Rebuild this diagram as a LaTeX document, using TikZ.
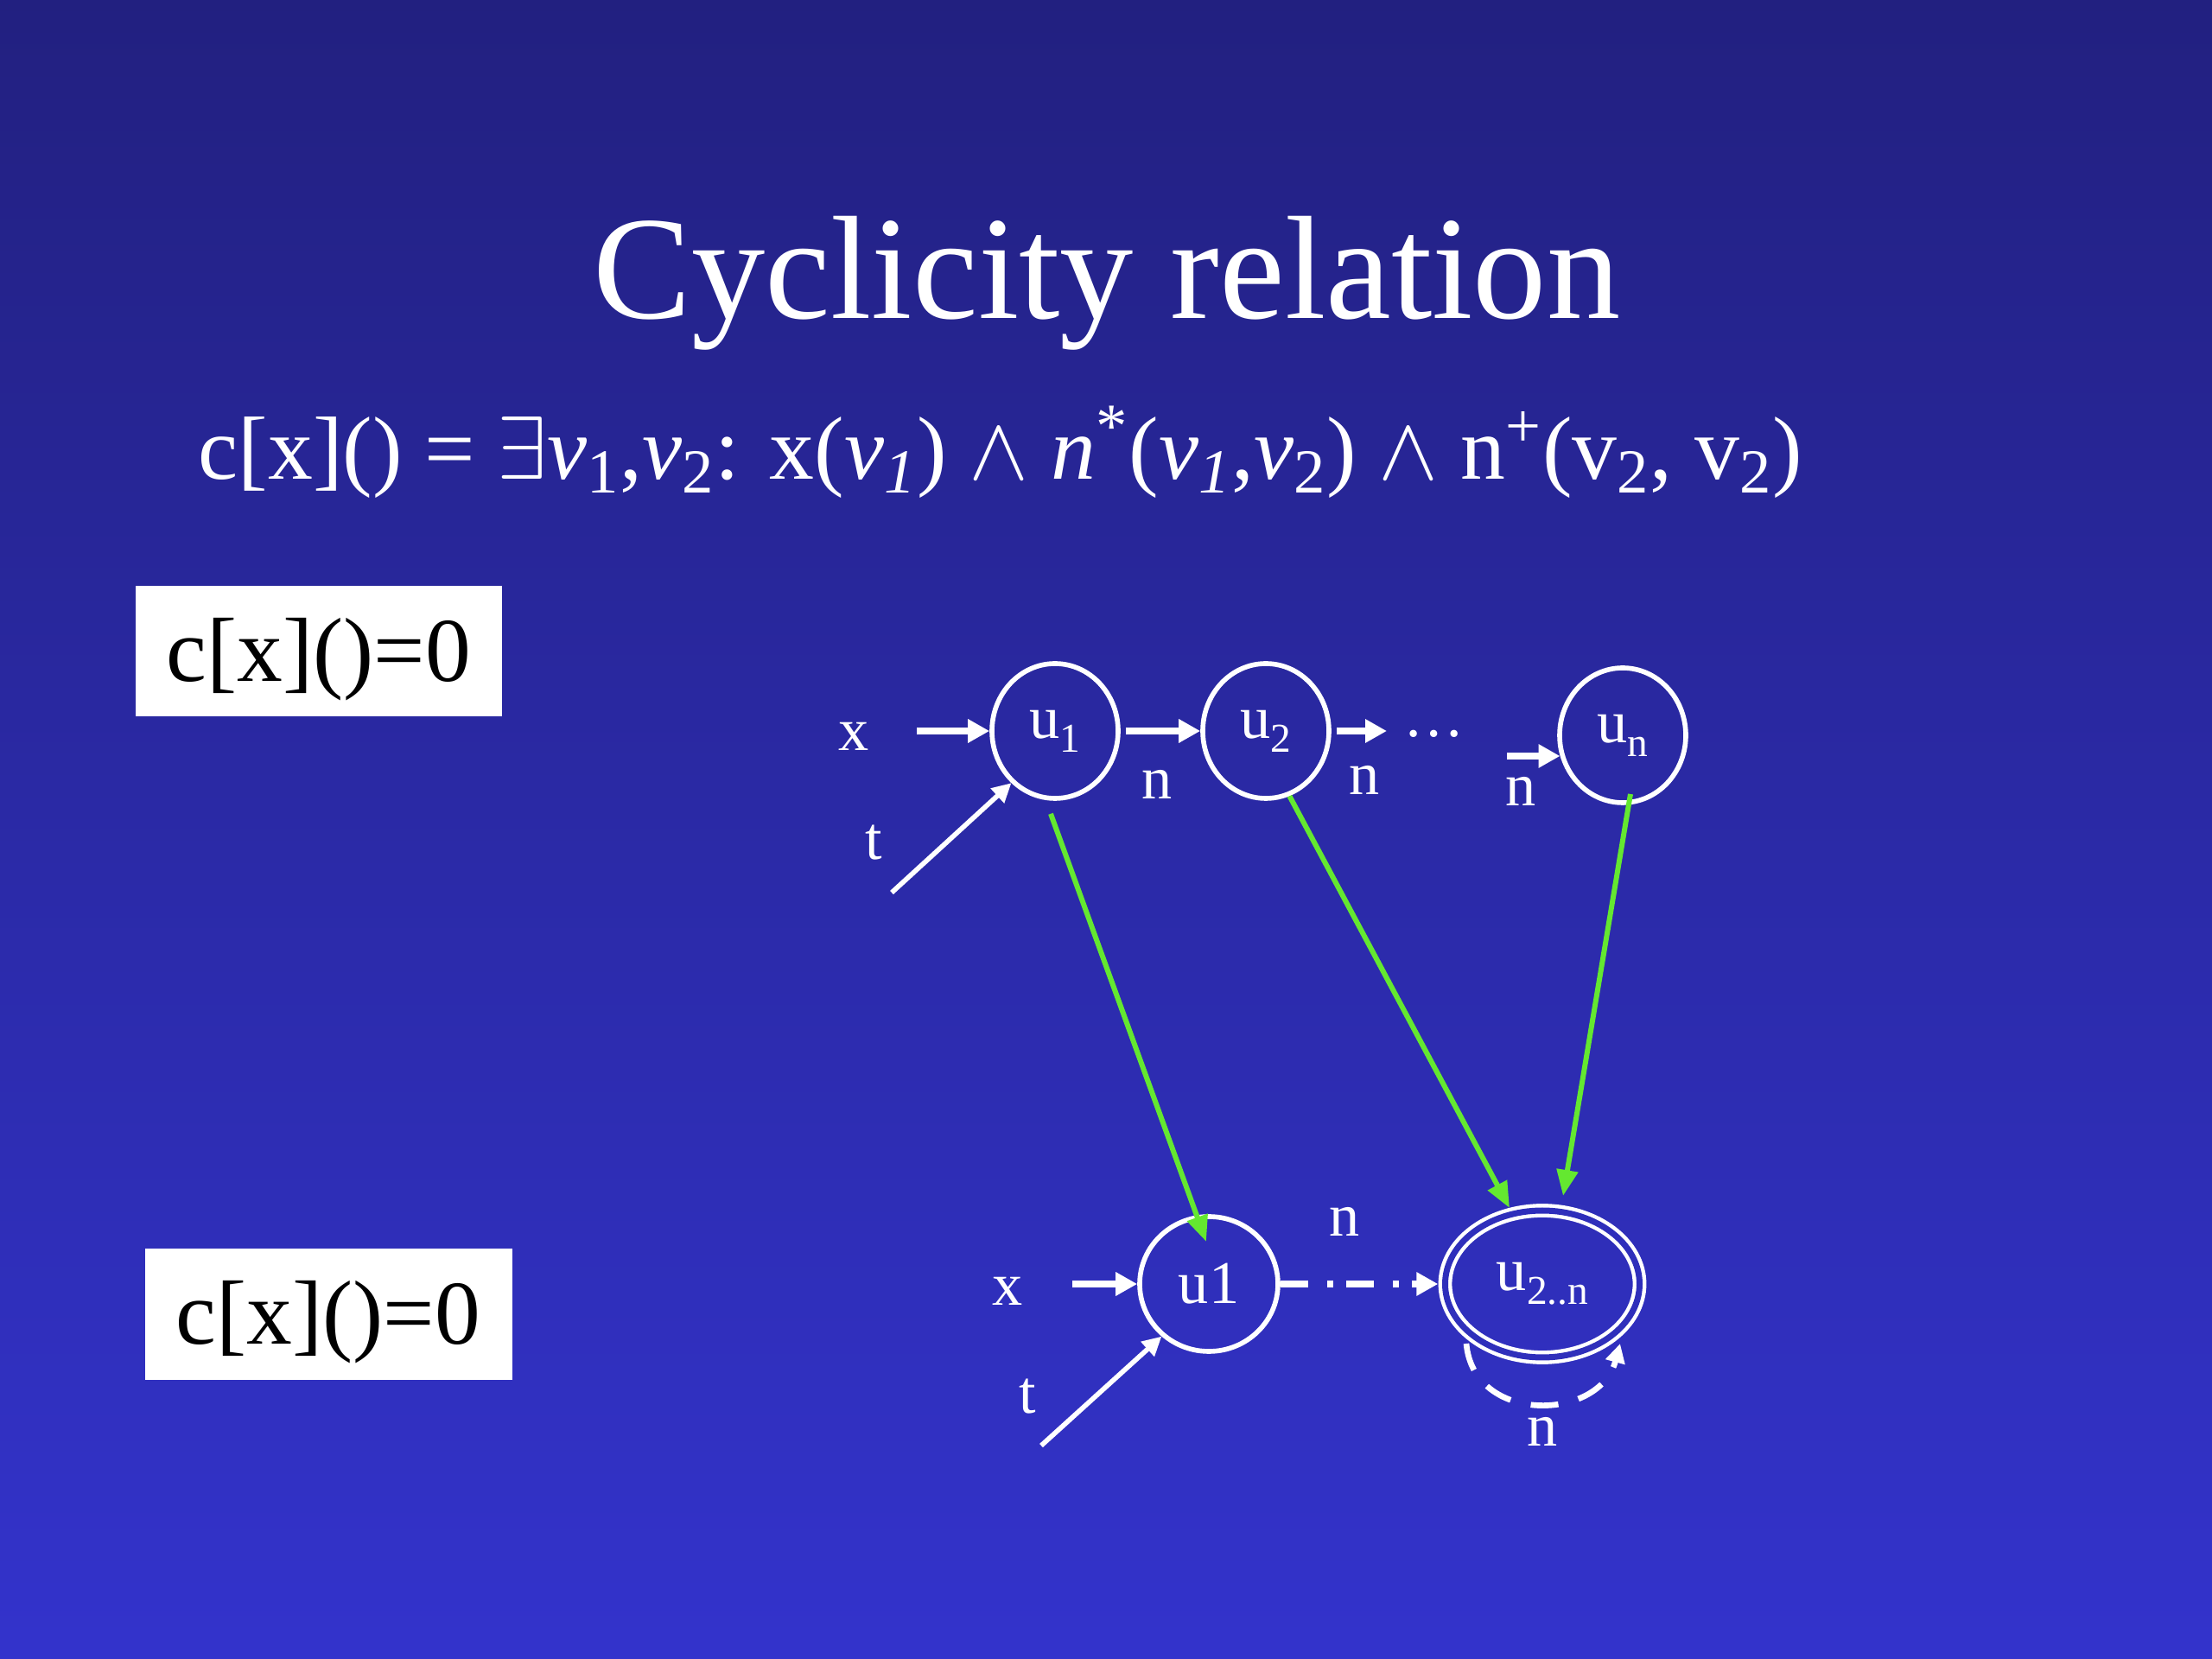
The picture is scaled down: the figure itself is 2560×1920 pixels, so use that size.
\documentclass[tikz,border=0pt]{standalone}
\usepackage{fix-cm}
\usepackage{fontspec}
\setmainfont{Liberation Serif}
\usetikzlibrary{arrows.meta,shapes.geometric}
\definecolor{bgtop}{RGB}{34,32,128}
\definecolor{bgbot}{RGB}{51,51,204}
\definecolor{bgmid}{RGB}{47,47,187}
\definecolor{lime}{RGB}{100,232,48}
\newcommand{\lowsub}[1]{\raisebox{-4.5pt}{\fontsize{13.5}{14}\selectfont #1}}
\tikzset{
  circ/.style={ellipse, draw=white, line width=1.6pt, inner sep=0pt, text=white,
    font=\fontsize{20}{22}\selectfont},
  lbl/.style={text=white, font=\fontsize{20}{22}\selectfont, inner sep=0pt},
  warr/.style={draw=white, line width=2.4pt, -{Triangle[length=2.5mm,width=2.6mm]}},
  tarr/.style={draw=white, line width=1.6pt, -{Triangle[length=2.2mm,width=2.2mm]}},
  garr/.style={draw=lime, line width=1.7pt, -{Triangle[length=3mm,width=2.4mm]}},
  box/.style={fill=white, text=black, inner sep=0pt, text height=8.8mm, text depth=1.9mm,
    font=\fontsize{30}{36}\selectfont},
}
\begin{document}
\begin{tikzpicture}[x=0.1mm, y=0.1mm]
\shade[top color=bgtop, bottom color=bgbot] (0,0) rectangle (2560,1920);
\useasboundingbox (0,0) rectangle (2560,1920);

% title and formula
\node[text=white, font=\fontsize{48.5}{58}\selectfont, anchor=base, inner sep=0pt] (title) at (1281,1551) {Cyclicity relation};
\node[text=white, font=\fontsize{29.5}{36}\selectfont, anchor=base west, inner sep=0pt] (formula) at (229,1365)
 {c[x]() = $\exists$\textit{v}\textsubscript{1},\textit{v}\textsubscript{2}: x(\textit{v\textsubscript{1}}) $\wedge$ \textit{n}\textsuperscript{*}(\textit{v\textsubscript{1}},\textit{v}\textsubscript{2}) $\wedge$ n\textsuperscript{+}(v\textsubscript{2}, v\textsubscript{2})};

% boxes
\node[box, minimum width=42.4mm, minimum height=15.1mm] (b1) at (369,1166) {c[x]()=0};
\node[box, minimum width=42.5mm, minimum height=15.2mm] (b2) at (380,399) {c[x]()=0};

% top row
\node[circ, minimum width=14.6mm, minimum height=15.6mm] (u1) at (1221,1074) {u\lowsub{1}};
\node[circ, minimum width=14.6mm, minimum height=15.6mm] (u2) at (1465,1074) {u\lowsub{2}};
\node[circ, minimum width=14.6mm, minimum height=15.6mm] (un) at (1878,1069) {u\lowsub{n}};

\node[lbl] (xa) at (988,1068) {x};
\node[lbl] (ta) at (1011,945) {t};
\node[lbl] (na) at (1339,1012) {n};
\node[lbl] (nb) at (1579,1017) {n};
\node[lbl] (nc) at (1760,1004) {n};
\node[lbl] (dots) at (1660,1071) {…};

\coordinate (xs) at (1061,1074);
\coordinate (ts) at (1032,887);
\coordinate (d1) at (1605,1074);
\coordinate (nin) at (1744,1045);
\draw[warr] (xs) -- (u1.west);
\draw[tarr] (ts) -- (u1.230);
\draw[warr] ([xshift=0.6mm]u1.east) -- (u2.west);
\draw[warr] ([xshift=0.6mm]u2.east) -- (d1);
\draw[warr] (nin) -- (nin -| un.198);

% bottom row
\node[circ, minimum width=16mm, minimum height=15.6mm] (v1) at (1399,434) {u1};
\node[circ, line width=1.25pt, double=bgmid, double distance=0.7mm, minimum width=22.5mm, minimum height=17mm] (v2) at (1785,434) {u\lowsub{2..n}};

\node[lbl] (xb) at (1166,426) {x};
\node[lbl] (tb) at (1189,304) {t};
\node[lbl] (nd) at (1556,506) {n};
\node[lbl] (ne) at (1785,263) {n};

\coordinate (xs2) at (1241,434);
\coordinate (ts2) at (1205,247);
\draw[warr] (xs2) -- (v1.west);
\draw[tarr] (ts2) -- (v1.228);
\draw[warr, dash pattern=on 3.2mm off 2.2mm on 0.7mm off 1.5mm, shorten >=0.6mm] (v1.east) -- (v2.west);

\coordinate (ls) at (1697,365);
\coordinate (le) at (1875,365);
\draw[tarr, line width=1.9pt, dash pattern=on 3.2mm off 2.4mm] (ls) to[out=-85, in=-105, looseness=1.35] (le);

% green arrows
\draw[garr] ([shift={(-5,-15)}]u1.south) -- ([shift={(-3,49)}]v1.center);
\draw[garr] (u2.290) -- ([shift={(-38,88)}]v2.center);
\draw[garr] ([shift={(9,-68)}]un.center) -- ([shift={(24,102)}]v2.center);
\end{tikzpicture}
\end{document}
